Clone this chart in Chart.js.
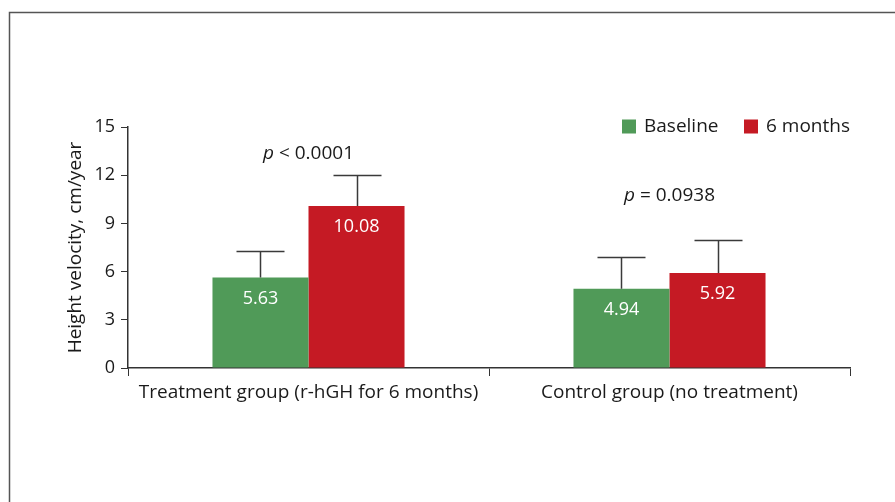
<!DOCTYPE html>
<html>
<head>
<meta charset="utf-8">
<script src="https://cdn.jsdelivr.net/npm/chart.js@4"></script>
<style>
  html, body { margin: 0; padding: 0; background: #fff; }
  #wrap { width: 895px; height: 502px; position: relative; }
</style>
</head>
<body>
<div id="wrap"><canvas id="hv"></canvas></div>
<script>
const groups = ['Treatment group (r-hGH for 6 months)', 'Control group (no treatment)'];
const seriesNames = ['Baseline', '6 months'];
const baseline = [5.63, 4.94];
const sixMonths = [10.08, 5.92];
const baselineUpper = [7.28, 6.93];
const sixMonthsUpper = [12.02, 7.98];
const pLabels = [['<', '0.0001'], ['=', '0.0938']];
const pLevels = [13.35, 10.75];
const yTicks = [0, 3, 6, 9, 12, 15];

const green = '#509a58';
const red = '#c51a24';
const fontFam = '"Open Sans", "Noto Sans", sans-serif';

// frame, error bars, value labels, p values, legend
const extras = {
    id: 'extras',
    beforeDraw(chart) {
        const { ctx } = chart;
        ctx.save();
        ctx.strokeStyle = '#555';
        ctx.lineWidth = 1.5;
        ctx.strokeRect(9.5, 12.5, 1000, 1000);
        ctx.restore();
    },
    afterDatasetsDraw(chart) {
        const { ctx, scales: { x, y } } = chart;
        const uppers = [baselineUpper, sixMonthsUpper];
        ctx.save();
        chart.data.datasets.forEach((ds, di) => {
            const meta = chart.getDatasetMeta(di);
            meta.data.forEach((bar, i) => {
                const cx = Math.round(bar.x) + 0.5;
                const yTop = y.getPixelForValue(ds.data[i]);
                const yUp = Math.round(y.getPixelForValue(uppers[di][i])) + 0.5;
                ctx.strokeStyle = '#3a3a3a';
                ctx.lineWidth = 1.5;
                ctx.beginPath();
                ctx.moveTo(cx, yTop);
                ctx.lineTo(cx, yUp);
                ctx.moveTo(cx - 24, yUp);
                ctx.lineTo(cx + 24, yUp);
                ctx.stroke();
                ctx.fillStyle = '#fff';
                ctx.font = '18px ' + fontFam;
                ctx.textAlign = 'center';
                ctx.textBaseline = 'middle';
                ctx.fillText(ds.data[i].toFixed(2), bar.x, yTop + 21);
            });
        });
        // p values
        ctx.fillStyle = '#1a1a1a';
        ctx.textBaseline = 'middle';
        pLabels.forEach((p, i) => {
            const cx = x.getPixelForValue(i);
            const py = y.getPixelForValue(pLevels[i]);
            const rest = ' ' + p[0] + ' ' + p[1];
            ctx.font = 'italic 19px ' + fontFam;
            const w1 = ctx.measureText('p').width;
            ctx.font = '19px ' + fontFam;
            const w2 = ctx.measureText(rest).width;
            const sx = cx - (w1 + w2) / 2;
            ctx.textAlign = 'left';
            ctx.font = 'italic 19px ' + fontFam;
            ctx.fillText('p', sx, py);
            ctx.font = '19px ' + fontFam;
            ctx.fillText(rest, sx + w1, py);
        });
        // legend
        const colors = [green, red];
        const lx = [622, 744];
        ctx.font = '19px ' + fontFam;
        ctx.textAlign = 'left';
        seriesNames.forEach((n, i) => {
            ctx.fillStyle = colors[i];
            ctx.fillRect(lx[i], 119.5, 14, 14);
            ctx.fillStyle = '#1a1a1a';
            ctx.fillText(n, lx[i] + 22, 127);
        });
        ctx.restore();
    }
};

new Chart(document.getElementById('hv'), {
    type: 'bar',
    data: {
        labels: groups,
        datasets: [
            { label: seriesNames[0], data: baseline, backgroundColor: green },
            { label: seriesNames[1], data: sixMonths, backgroundColor: red }
        ]
    },
    options: {
        responsive: true,
        maintainAspectRatio: false,
        animation: false,
        events: [],
        layout: { padding: { top: 127, right: 45, left: 0, bottom: 0 } },
        datasets: { bar: { barPercentage: 1, categoryPercentage: 0.532 } },
        plugins: {
            legend: { display: false },
            tooltip: { enabled: false }
        },
        scales: {
            x: {
                grid: { drawOnChartArea: false, drawTicks: true, tickLength: 8, color: '#333', offset: true },
                border: { color: '#333', width: 1.5 },
                ticks: { color: '#1a1a1a', font: { family: fontFam, size: 19 }, padding: 5, maxRotation: 0 },
                afterFit(s) { s.height = 134; }
            },
            y: {
                min: 0,
                max: 15,
                afterBuildTicks(s) { s.ticks = yTicks.map(v => ({ value: v })); },
                grid: { drawOnChartArea: false, drawTicks: true, tickLength: 7, color: '#333' },
                border: { color: '#333', width: 1.5 },
                ticks: { color: '#1a1a1a', font: { family: fontFam, size: 18 }, padding: 6 },
                title: {
                    display: true,
                    text: 'Height velocity, cm/year',
                    color: '#1a1a1a',
                    font: { family: fontFam, size: 19 },
                    padding: { top: 64, bottom: 0 }
                },
                afterFit(s) { s.width = 128; }
            }
        }
    },
    plugins: [extras]
});
</script>
</body>
</html>
